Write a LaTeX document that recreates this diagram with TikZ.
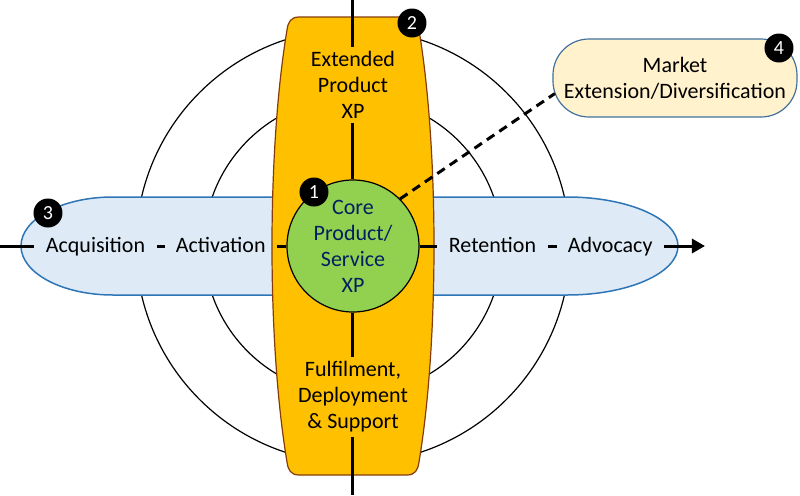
\documentclass[tikz,border=0pt]{standalone}
\usepackage{fontspec}
\setmainfont{Carlito}
\usetikzlibrary{arrows.meta,positioning}

\definecolor{xpgold}{HTML}{FFC000}
\definecolor{bandedge}{HTML}{843C0C}
\definecolor{laneblue}{HTML}{2E75B6}
\definecolor{lanefill}{HTML}{DEEBF7}
\definecolor{coregreen}{HTML}{92D050}
\definecolor{corenavy}{HTML}{002060}
\definecolor{mktfill}{HTML}{FFF2CC}
\definecolor{mktedge}{HTML}{41719C}

\begin{document}
\begin{tikzpicture}[
    x=0.5pt,y=0.5pt,
    font=\fontsize{11}{13}\selectfont,
    >={Triangle[length=6.5pt,width=7pt]},
    ring/.style={draw=black,line width=0.6pt},
    lane/.style={draw=laneblue,fill=lanefill,line width=0.75pt},
    band/.style={draw=bandedge,fill=xpgold,line width=0.6pt},
    hub/.style={circle,draw,fill=coregreen,line width=0.6pt,minimum size=66pt,
                inner sep=0pt,align=center,text=corenavy},
    txt/.style={align=center,inner xsep=5.5pt,inner ysep=2pt},
    step txt/.style={txt,text height=0.8em,text depth=0.2em},
    mkt/.style={draw=mktedge,fill=mktfill,rounded corners=18pt,minimum width=122pt,
                minimum height=39pt,align=center,line width=0.6pt},
    badge/.style={circle,fill=black,text=white,minimum size=14.5pt,inner sep=0pt,
                  font=\fontsize{10}{12}\selectfont},
    axis/.style={line width=1.5pt},
    link/.style={line width=1.5pt,dash pattern=on 4.5pt off 3pt},
]
\useasboundingbox (-353,-249) rectangle (447,246);

% ---- rings ----
\draw[ring] (0,0) circle[radius=217];
\draw[ring] (0,0) circle[radius=149];

% ---- customer journey lane (horizontal) ----
\draw[lane] (-240,49) -- (214,49) arc[start angle=90,end angle=-90,x radius=111,y radius=49]
      -- (-240,-49) arc[start angle=270,end angle=90,x radius=92,y radius=49] -- cycle;

% ---- product band (vertical) ----
\draw[band] (-54,229) -- (54,229) .. controls (62,229) and (65,224) .. (66,216)
      .. controls (86,96) and (86,-96) .. (66,-216)
      .. controls (65,-224) and (62,-229) .. (54,-229) -- (-54,-229)
      .. controls (-62,-229) and (-65,-224) .. (-66,-216)
      .. controls (-86,-96) and (-86,96) .. (-66,216)
      .. controls (-65,224) and (-62,229) .. (-54,229) -- cycle;

% ---- nodes ----
\node[hub] (core) at (0,0) {Core\\Product/\\Service\\XP};
\node[txt] (ext) at (0,161) {Extended\\Product\\XP};
\node[txt] (ful) at (0,-151) {Fulfilment,\\Deployment\\\& Support};
\node[step txt] (acq) at (-257.5,0) {Acquisition};
\node[step txt,right=4pt of acq] (act) {Activation};
\node[step txt] (ret) at (139.5,0) {Retention};
\node[step txt,right=4.5pt of ret] (adv) {Advocacy};

\coordinate (ntop) at (0,246);
\coordinate (nbot) at (0,-249);
\coordinate (wend) at (-353,0);
\coordinate (eend) at (352,0);

% ---- axes ----
\draw[axis] (ntop) -- (ext);
\draw[axis] (ext) -- (core);
\draw[axis] (core) -- (ful);
\draw[axis] (ful) -- (nbot);
\draw[axis] (wend) -- (acq);
\draw[axis] (acq) -- (act);
\draw[axis] (act) -- (core);
\draw[axis] (core) -- (ret);
\draw[axis] (ret) -- (adv);
\draw[axis,->] (adv) -- (eend);

% ---- market extension ----
\node[mkt] (mkt) at (322,168) {Market\\Extension/Diversification};
\draw[link,shorten >=-1.5pt] (core.45) -- (mkt.188);

% ---- numbered badges ----
\node[badge] (b1) at (-39,54) {1};
\node[badge] (b2) at (59,223) {2};
\node[badge] (b3) at (-305,33) {3};
\node[badge] (b4) at (426,198) {4};

\end{tikzpicture}
\end{document}
